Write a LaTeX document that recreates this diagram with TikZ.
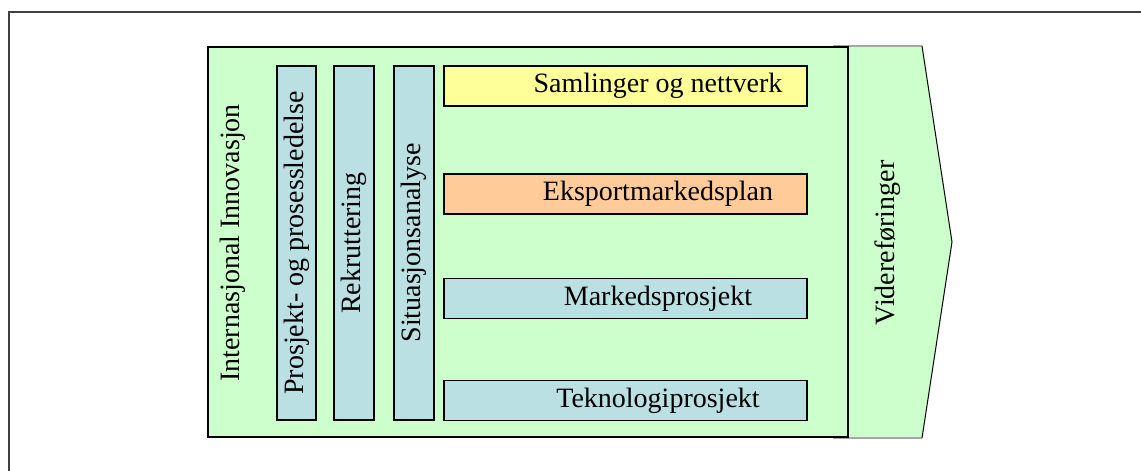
\documentclass[tikz,border=0pt]{standalone}
\usepackage{fontspec}
\setmainfont{Liberation Serif}
\definecolor{bggreen}{HTML}{CCFFCC}
\definecolor{barblue}{HTML}{BAE0E3}
\definecolor{boxyellow}{HTML}{FFFF99}
\definecolor{boxorange}{HTML}{FFCC99}
\definecolor{framegray}{HTML}{404040}
\begin{document}
\begin{tikzpicture}[x=1pt,y=-1pt,
  lbl/.style={font=\fontsize{28}{30}\selectfont, inner sep=0pt},
  vbar/.style={draw=black, line width=1.4pt, fill=barblue, inner sep=0pt, minimum width=354pt, rotate=90, font=\fontsize{28}{30}\selectfont},
  hbox/.style={draw=black, line width=1.4pt, inner sep=0pt, minimum width=363pt, minimum height=40pt}]
\useasboundingbox (0,0) rectangle (1141,471);
% outer frame
\coordinate (fbl) at (9,471);
\coordinate (ftl) at (9,12);
\coordinate (ftr) at (1141,12);
\draw[framegray, line width=2pt] (fbl) -- (ftl) -- (ftr);
% arrow
\coordinate (atl) at (833,46);
\coordinate (atr) at (922,46);
\coordinate (atip) at (952,242);
\coordinate (abr) at (922,438);
\coordinate (abl) at (833,438);
\fill[bggreen] (atl) -- (atr) -- (atip) -- (abr) -- (abl) -- cycle;
\draw[gray!70, line width=1.2pt] (atl) -- (atr);
\draw[gray!70, line width=1.2pt] (abl) -- (abr);
\draw[black, line width=1pt] (atr) -- (atip) -- (abr);
% main rectangle
\node[draw=black, line width=1.5pt, fill=bggreen, inner sep=0pt, minimum width=640pt, minimum height=390pt] (main) at (528,242) {};
% labels
\node[lbl, rotate=90] (intl) at (233,243) {Internasjonal Innovasjon};
\node[lbl, rotate=90] (vid) at (888,243) {Videreføringer};
% vertical bars
\node[vbar, minimum height=39pt] (b1) at (296.5,243) {Prosjekt- og prosessledelse};
\node[vbar, minimum height=40pt] (b2) at (354,243) {Rekruttering};
\node[vbar, minimum height=40pt] (b3) at (414,243) {Situasjonsanalyse};
% horizontal boxes
\node[hbox, fill=boxyellow] (h1) at (625.5,86) {};
\node[hbox, fill=boxorange] (h2) at (625.5,194) {};
\node[hbox, fill=barblue] (h3) at (625.5,298.5) {};
\node[hbox, fill=barblue] (h4) at (625.5,400.5) {};
\node[lbl] (t1) at (658,86) {Samlinger og nettverk};
\node[lbl] (t2) at (658,194) {Eksportmarkedsplan};
\node[lbl] (t3) at (658,298.5) {Markedsprosjekt};
\node[lbl] (t4) at (658,400.5) {Teknologiprosjekt};
\end{tikzpicture}
\end{document}
